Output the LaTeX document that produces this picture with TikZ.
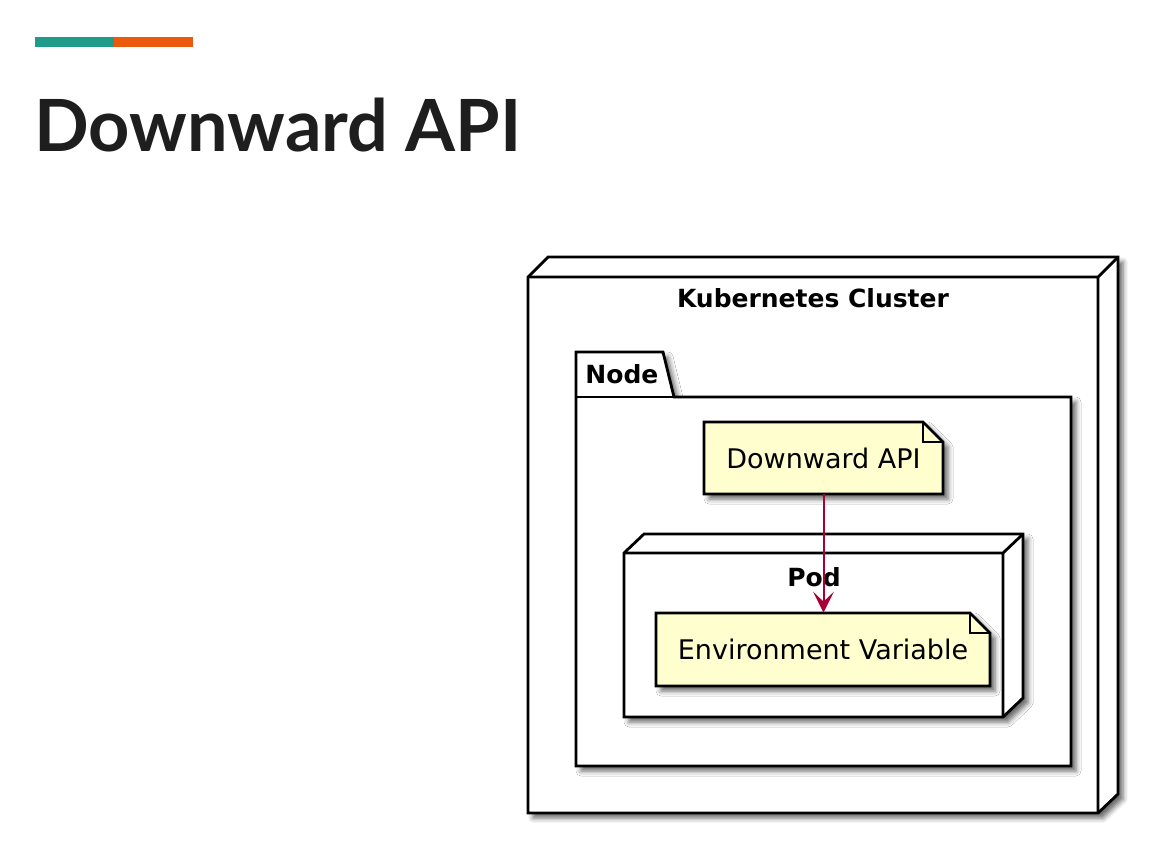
\documentclass[tikz,border=0pt]{standalone}
\usepackage{fontspec}
\setmainfont{DejaVu Sans}
\newfontfamily\titlefont{Lato}
\usepackage{tikz}
\usetikzlibrary{arrows.meta,shadows.blur}
\definecolor{barteal}{HTML}{1E9B8A}
\definecolor{barorange}{HTML}{EB5A0C}
\definecolor{titlegray}{HTML}{1E1E1E}
\definecolor{notebg}{HTML}{FEFECE}
\definecolor{arrowred}{HTML}{A80036}

\begin{document}
\begin{tikzpicture}[x=0.5pt, y=-0.5pt,
    box/.style={draw=black, line width=1.4pt, fill=white, line join=miter,
        blur shadow={shadow xshift=2.5pt, shadow yshift=-2.5pt, shadow blur radius=2.5pt, shadow opacity=60}},
    note/.style={box, fill=notebg},
    fold/.style={draw=black, line width=1.4pt},
    notetext/.style={inner sep=0pt, font=\fontsize{13.5}{16}\selectfont},
    boxlabel/.style={inner sep=0pt, anchor=base, font=\bfseries\fontsize{12.5}{15}\selectfont},
    edge/.style={-{Stealth[length=10.5pt, width=10.5pt, inset=5pt]}, draw=arrowred, fill=arrowred, line width=1pt}
]
    \useasboundingbox (0,0) rectangle (1166,843);

    % Heading
    \fill[barteal] (35,37) rectangle (114,46.5);
    \fill[barorange] (114,37) rectangle (193,46.5);
    \node[anchor=base west, inner sep=0pt, text=titlegray,
          font=\titlefont\bfseries\fontsize{36}{40}\selectfont] (title) at (34,151) {Downward API};

    % Kubernetes Cluster
    \draw[box] (528,813) -- (528,277) -- (548,257) -- (1118,257) -- (1118,794) -- (1098,813) -- cycle;
    \draw[fold] (528,277) -- (1098,277) -- (1118,257) (1098,277) -- (1098,813);
    \node[boxlabel] (cluster) at (813,307) {Kubernetes Cluster};

    % Node package
    \draw[box] (576,766) -- (576,352) -- (663,352) -- (674,397) -- (1071,397) -- (1071,766) -- cycle;
    \draw[fold] (576,397) -- (674,397);
    \node[boxlabel, anchor=base west] (node) at (585,383) {Node};

    % Downward API note
    \draw[note] (704,422) -- (923,422) -- (943,442) -- (943,494) -- (704,494) -- cycle;
    \draw[fold] (923,422) -- (923,442) -- (943,442);
    \node[notetext, minimum width=119.5pt, minimum height=36pt] (api) at (823.5,458) {Downward API};

    % Pod
    \draw[box] (624,717) -- (624,553) -- (644,534) -- (1023,534) -- (1023,698) -- (1003,717) -- cycle;
    \draw[fold] (624,553) -- (1003,553) -- (1023,534) (1003,553) -- (1003,717);
    \node[boxlabel] (pod) at (814,586) {Pod};

    % Environment Variable note
    \draw[note] (656,613) -- (970,613) -- (990,633) -- (990,686) -- (656,686) -- cycle;
    \draw[fold] (970,613) -- (970,633) -- (990,633);
    \node[notetext, minimum width=167pt, minimum height=36.5pt] (env) at (823,649.5) {Environment Variable};

    % Connections
    \draw[edge] (api.south) -- (api.south |- env.north);
\end{tikzpicture}
\end{document}
